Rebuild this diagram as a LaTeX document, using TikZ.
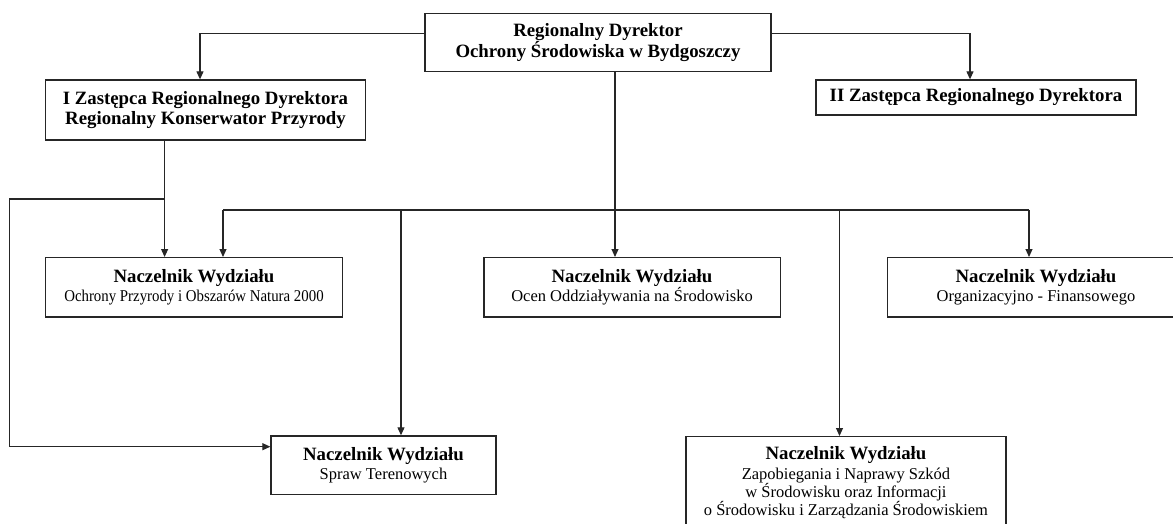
\documentclass[tikz,border=0pt]{standalone}
\usepackage{fontspec}
\setmainfont{Liberation Serif}
\newfontfamily\condserif[FakeStretch=0.9]{Liberation Serif}
\usetikzlibrary{arrows.meta}
\newcommand\hdfont{\fontsize{18.8}{20.7}\selectfont\bfseries}
\newcommand\subfont{\fontsize{16.5}{18.4}\selectfont}
\begin{document}
\begin{tikzpicture}[x=1pt,y=-1pt,
  box/.style={draw=black!85, line width=1.3pt, fill=white, inner sep=0pt, align=center},
  conn/.style={draw=black!85, line width=1.1pt},
  arr/.style={conn, -{Triangle[length=8pt,width=7pt]}}]
\useasboundingbox (0,0) rectangle (1173,524);
\clip (0,0) rectangle (1173,524);
\fill[white] (0,0) rectangle (1173,524);

% boxes
\node[box, font=\hdfont, minimum width=346, minimum height=58] (top) at (598,42.5)
  {Regionalny Dyrektor\\Ochrony Środowiska w Bydgoszczy};
\node[box, font=\hdfont, minimum width=320, minimum height=60] (z1) at (205.5,110)
  {I Zastępca Regionalnego Dyrektora\\Regionalny Konserwator Przyrody};
\node[box, font=\hdfont, minimum width=320, minimum height=35] (z2) at (976,97.5)
  {II Zastępca Regionalnego Dyrektora};
\node[box, font=\subfont, minimum width=296.5, minimum height=59.3] (n1) at (194,287.3)
  {{\hdfont Naczelnik Wydziału}\\{\condserif Ochrony Przyrody i Obszarów Natura 2000}};
\node[box, font=\subfont, minimum width=296.3, minimum height=59.3] (n2) at (632,287.3)
  {{\hdfont Naczelnik Wydziału}\\Ocen Oddziaływania na Środowisko};
\node[box, font=\subfont, minimum width=296.5, minimum height=59.3] (n3) at (1036,287.3)
  {{\hdfont Naczelnik Wydziału}\\Organizacyjno - Finansowego};
\node[box, font=\subfont, minimum width=225, minimum height=58.7] (sp) at (383.5,465.3)
  {{\hdfont Naczelnik Wydziału}\\Spraw Terenowych};
\node[box, font=\subfont, minimum width=320, minimum height=92, anchor=north] (zp) at (846,436)
  {{\hdfont Naczelnik Wydziału}\\[1.5pt]Zapobiegania i Naprawy Szkód\\w Środowisku oraz Informacji\\o Środowisku i Zarządzania Środowiskiem};

% helper coordinates
\coordinate (cL) at (200,33.5);
\coordinate (cR) at (970,33.5);
\coordinate (cA) at (164.6,199);
\coordinate (cC) at (9.6,446.7);
\coordinate (cM) at (615,210);
\coordinate (b1) at (223,210);
\coordinate (b2) at (1029,210);
\coordinate (b3) at (401,210);
\coordinate (b4) at (839.5,210);

% connectors
\draw[arr] (top.west |- cL) -| (cL |- z1.north);
\draw[arr] (top.east |- cR) -| (cR |- z2.north);
\draw[arr] (z1.south -| cA) -- (cA |- n1.north);
\draw[arr] (cA) -| (cC) -- (sp.west |- cC);
\draw[arr] (top.south -| cM) -- (cM |- n2.north);
\draw[conn] (b1) -- (b2);
\draw[arr] (b1) -- (b1 |- n1.north);
\draw[arr] (b2) -- (b2 |- n3.north);
\draw[arr] (b3) -- (b3 |- sp.north);
\draw[arr] (b4) -- (b4 |- zp.north);
\end{tikzpicture}
\end{document}
